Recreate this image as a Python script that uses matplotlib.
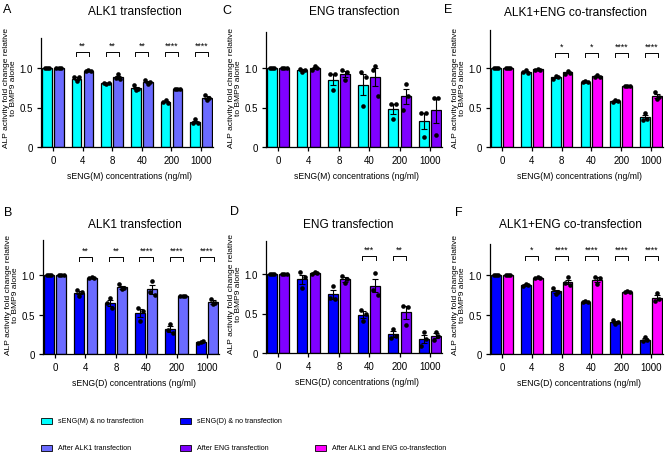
import numpy as np
import matplotlib
matplotlib.use("Agg")
import matplotlib.pyplot as plt
from matplotlib.patches import Rectangle

plt.rcParams.update({"font.family": ["Liberation Sans", "DejaVu Sans"], "font.size": 7})

W, H = 668, 456
PX_PER_UNIT = 79.0

GROUPS = ["0", "4", "8", "40", "200", "1000"]

# three replicates per bar (left, centre, right)
A_CTRL = [[1, 1, 1], [0.89, 0.83, 0.88], [0.81, 0.80, 0.81], [0.78, 0.72, 0.74], [0.57, 0.59, 0.56], [0.30, 0.35, 0.30]]
A_TRAN = [[1, 1, 1], [0.96, 0.97, 0.96], [0.87, 0.92, 0.86], [0.85, 0.80, 0.82], [0.73, 0.73, 0.73], [0.66, 0.59, 0.62]]
C_CTRL = [[1, 1, 1], [0.99, 0.95, 0.98], [0.92, 0.72, 0.92], [0.95, 0.52, 0.89], [0.55, 0.35, 0.55], [0.43, 0.13, 0.43]]
C_TRAN = [[1, 1, 1], [0.98, 1.02, 1.00], [0.97, 0.85, 0.95], [0.98, 1.03, 0.65], [0.47, 0.80, 0.65], [0.62, 0.15, 0.62]]
E_CTRL = [[1, 1, 1], [0.95, 0.97, 0.94], [0.86, 0.90, 0.88], [0.82, 0.84, 0.82], [0.57, 0.59, 0.58], [0.34, 0.43, 0.36]]
E_TRAN = [[1, 1, 1], [0.98, 0.99, 0.98], [0.93, 0.96, 0.94], [0.88, 0.91, 0.89], [0.77, 0.77, 0.77], [0.69, 0.61, 0.63]]
B_CTRL = [[1, 1, 1], [0.81, 0.74, 0.78], [0.65, 0.71, 0.58], [0.58, 0.42, 0.55], [0.30, 0.38, 0.26], [0.14, 0.15, 0.16]]
B_TRAN = [[1, 1, 1], [0.96, 0.97, 0.96], [0.88, 0.82, 0.83], [0.78, 0.93, 0.75], [0.73, 0.74, 0.73], [0.70, 0.63, 0.65]]
D_CTRL = [[1, 1, 1], [1.02, 0.82, 0.96], [0.70, 0.85, 0.68], [0.55, 0.40, 0.50], [0.19, 0.31, 0.22], [0.09, 0.27, 0.18]]
D_TRAN = [[1, 1, 1], [1.00, 1.03, 1.01], [0.98, 0.88, 0.94], [0.80, 1.01, 0.74], [0.60, 0.36, 0.58], [0.17, 0.27, 0.22]]
F_CTRL = [[1, 1, 1], [0.86, 0.89, 0.87], [0.83, 0.76, 0.79], [0.66, 0.67, 0.66], [0.43, 0.38, 0.40], [0.16, 0.21, 0.18]]
F_TRAN = [[1, 1, 1], [0.96, 0.97, 0.96], [0.90, 0.97, 0.87], [0.98, 0.88, 0.96], [0.79, 0.80, 0.78], [0.67, 0.77, 0.70]]

A_SIG = ["", "**", "**", "**", "****", "****"]
C_SIG = ["", "", "", "", "", ""]
E_SIG = ["", "", "*", "*", "****", "****"]
B_SIG = ["", "**", "**", "****", "****", "****"]
D_SIG = ["", "", "", "***", "**", ""]
F_SIG = ["", "*", "****", "****", "****", "****"]

CYAN, BLUE = "#00ffff", "#0000ff"
ALK1, ENG, CO = "#6b6bff", "#7f00ff", "#ff00ff"

LEGEND = [("sENG(M) & no transfection", CYAN, 41, 422),
          ("sENG(D) & no transfection", BLUE, 180, 422),
          ("After ALK1 transfection", ALK1, 41, 449),
          ("After ENG transfection", ENG, 180, 449),
          ("After ALK1 and ENG co-transfection", CO, 315, 449)]

# letter, title, ligand, axes box (left, right, x-axis y px), ytop, ctrl, tran, colours, sig, bracket y,
# title (x, y) px, letter (x, y) px
PANELS = [
    ("A", "ALK1 transfection", "M", (41, 213, 148), 1.38, A_CTRL, A_TRAN, CYAN, ALK1, A_SIG, 1.20, (135, 12), (3, 10)),
    ("C", "ENG transfection", "M", (266, 442, 148), 1.46, C_CTRL, C_TRAN, CYAN, ENG, C_SIG, 1.20, (354, 12), (222, 11)),
    ("E", "ALK1+ENG co-transfection", "M", (490, 663, 148), 1.48, E_CTRL, E_TRAN, CYAN, CO, E_SIG, 1.19, (575, 13), (444, 10)),
    ("B", "ALK1 transfection", "D", (43, 219, 355), 1.44, B_CTRL, B_TRAN, BLUE, ALK1, B_SIG, 1.23, (135, 225), (4, 213)),
    ("D", "ENG transfection", "D", (266, 442, 354), 1.42, D_CTRL, D_TRAN, BLUE, ENG, D_SIG, 1.23, (348, 225), (230, 212)),
    ("F", "ALK1+ENG co-transfection", "D", (490, 663, 355), 1.39, F_CTRL, F_TRAN, BLUE, CO, F_SIG, 1.24, (570, 225), (455, 213)),
]


def draw_panel(fig, letter, title, lig, box, ytop, ctrl, tran, c1, c2, sig, by, tpos, lpos):
    left, right, base = box
    hpx = ytop * PX_PER_UNIT
    ax = fig.add_axes([left / W, 1 - base / H, (right - left) / W, hpx / H])
    x = np.arange(len(GROUPS))
    off, bw = 0.2, 0.33
    for pts, col, sgn in ((ctrl, c1, -1), (tran, c2, 1)):
        pts = np.array(pts, dtype=float)
        m = pts.mean(axis=1)
        sem = pts.std(axis=1, ddof=1) / np.sqrt(pts.shape[1])
        xc = x + sgn * off
        ax.bar(xc, m, width=bw, color=col, edgecolor="black", linewidth=0.9, zorder=2)
        ax.errorbar(xc, m, yerr=sem, fmt="none", ecolor="black", elinewidth=0.8,
                    capsize=2.2, capthick=0.8, zorder=3)
        for j, dx in enumerate((-0.08, 0.0, 0.08)):
            ax.scatter(xc + dx, pts[:, j], s=11, color="black", zorder=4, linewidths=0)
    for i, s in enumerate(sig):
        if not s:
            continue
        ax.plot([i - 0.22, i - 0.22, i + 0.22, i + 0.22], [by - 0.05, by, by, by - 0.05],
                color="black", lw=0.7, clip_on=False)
        ax.text(i, by + 0.03, s, ha="center", va="bottom", fontsize=6.3)
    ax.set_xlim(-0.4, 5.4)
    ax.set_ylim(0, ytop)
    ax.set_xticks(x)
    ax.set_xticklabels(GROUPS)
    ax.set_yticks([0, 0.5, 1.0])
    ax.set_yticklabels(["0", "0.5", "1.0"])
    ax.tick_params(direction="out", length=3, width=0.9, labelsize=7, pad=3)
    for sp in ("top", "right"):
        ax.spines[sp].set_visible(False)
    for sp in ("left", "bottom"):
        ax.spines[sp].set_linewidth(0.9)
    ax.set_ylabel("ALP activity fold change relative\nto BMP9 alone", fontsize=6, linespacing=1.0)
    ax.yaxis.set_label_coords(-24 / (right - left), 60 / hpx)
    fig.text(tpos[0] / W, 1 - tpos[1] / H, title, ha="center", va="center", fontsize=8.6)
    fig.text(lpos[0] / W, 1 - lpos[1] / H, letter, ha="left", va="center", fontsize=9)
    fig.text((left + right) / 2 / W + 0.004, 1 - (base + 29) / H,
             f"sENG({lig}) concentrations (ng/ml)", ha="center", va="center", fontsize=6.2)
    return ax


fig = plt.figure(figsize=(W / 100, H / 100), dpi=100)
for p in PANELS:
    draw_panel(fig, *p)

for label, col, lx, ly in LEGEND:
    fig.add_artist(Rectangle((lx / W, 1 - (ly + 3) / H), 11 / W, 6 / H, facecolor=col,
                             edgecolor="black", linewidth=0.6, transform=fig.transFigure))
    fig.text((lx + 17) / W, 1 - ly / H, label, ha="left", va="center", fontsize=5.1)

fig.savefig("out.png", dpi=100)
